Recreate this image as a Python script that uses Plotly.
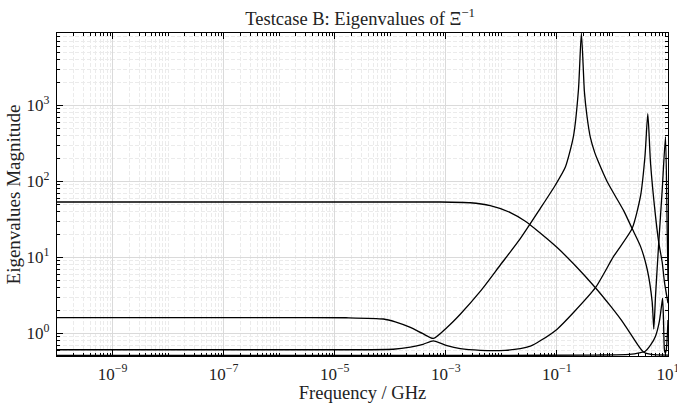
import math
import plotly.graph_objects as go

# Eigenvalue branches of Xi^-1 versus frequency (GHz)
freq_1 = [1e-10, 1e-6, 1.6e-5, 7.5e-5, 1.23e-4, 2.3e-4, 3.8e-4, 5.95e-4,
          1.05e-3, 1.82e-3, 4.2e-3, 9.5e-3, 0.0219, 0.050, 0.094, 0.142,
          0.198, 0.244, 0.276, 0.313, 0.35, 0.40, 0.48, 0.56, 0.80, 1.13, 1.6,
          2.26, 3.2, 4.22, 5.19, 5.55, 5.96, 6.75, 7.87, 9.02, 9.68, 10.0]
mag_1 = [1.62, 1.62, 1.61, 1.55, 1.42, 1.2, 1.0, 0.86,
         1.2, 1.79, 3.6, 7.9, 17.7, 44, 90, 155,
         390, 1600, 9000, 1500, 700, 380, 240, 180, 100, 64, 41,
         24, 14, 7.0, 2.6, 1.14, 3.1, 14, 78, 388, 23, 5.0]

freq_2 = [1e-10, 1e-5, 1.13e-4, 2.3e-4, 3.9e-4, 5.95e-4, 1.05e-3, 1.82e-3,
          4.2e-3, 0.0117, 0.0219, 0.0333, 0.050, 0.101, 0.201, 0.494, 1.055,
          2.26, 3.2, 3.85, 4.33, 4.84, 5.96, 6.82, 7.87, 8.65, 10.0]
mag_2 = [0.61, 0.61, 0.62, 0.66, 0.72, 0.80, 0.69, 0.63,
         0.60, 0.60, 0.63, 0.68, 0.80, 1.14, 1.9, 4.0, 10.4,
         24, 64, 215, 780, 178, 35, 15.7, 8.6, 4.7, 2.5]

freq_3 = [1e-10, 1e-4, 7.9e-4, 2.75e-3, 6.3e-3, 0.0145, 0.027, 0.050, 0.101,
          0.201, 0.494, 0.92, 1.6, 2.82, 3.62, 5.0, 10.0]
mag_3 = [53.7, 53.7, 53.7, 52.5, 48, 39, 30, 21, 13.5,
         8.2, 4.0, 2.3, 1.35, 0.72, 0.57, 0.53, 0.52]

freq_4 = [1e-10, 1e-2, 0.5, 2.0, 3.2, 3.85, 4.84, 5.96, 7.0, 7.7, 8.0,
          8.3, 8.6, 8.9, 9.3, 10.0]
mag_4 = [0.515, 0.515, 0.52, 0.53, 0.56, 0.58, 0.70, 0.92, 1.45, 2.4, 2.9,
         1.5, 0.62, 0.55, 0.60, 1.5]

series = [(freq_1, mag_1), (freq_2, mag_2), (freq_3, mag_3), (freq_4, mag_4)]

x_major = [1e-9, 1e-7, 1e-5, 1e-3, 1e-1, 1e1]
x_major_text = ["10<sup>−9</sup>", "10<sup>−7</sup>", "10<sup>−5</sup>",
                "10<sup>−3</sup>", "10<sup>−1</sup>", "10<sup>1</sup>"]
y_major = [1, 10, 100, 1000]
y_major_text = ["10<sup>0</sup>", "10<sup>1</sup>", "10<sup>2</sup>", "10<sup>3</sup>"]

x_lo, x_hi = 1e-10, 10.0
y_lo, y_hi = 0.505, 9000.0


def minor_values(lo_exp, hi_exp, majors):
    vals = []
    for e in range(lo_exp, hi_exp + 1):
        for k in range(1, 10):
            v = k * 10.0 ** e
            if any(abs(v - m) / m < 1e-9 for m in majors):
                continue
            vals.append(v)
    return vals


x_minor = minor_values(-10, 1, x_major)
y_minor = minor_values(-1, 3, y_major)

FONT = "Liberation Serif"
TEXT = "#222"

fig = go.Figure()
for f, m in series:
    fig.add_trace(go.Scatter(
        x=f, y=m, mode="lines",
        line=dict(color="black", width=1.3, shape="spline", smoothing=0.6),
        showlegend=False, hoverinfo="skip",
    ))

axis_common = dict(
    type="log", automargin=False,
    showline=True, linecolor="black", linewidth=1.2, mirror="ticks",
    ticks="inside", ticklen=6, tickwidth=1, tickcolor="black",
    showgrid=True, gridcolor="#dadada", gridwidth=1,
    zeroline=False,
    tickfont=dict(family=FONT, size=17, color=TEXT),
    tickmode="array",
    ticklabeloverflow="allow",
)
minor_common = dict(tickmode="array", ticks="inside", ticklen=3,
                    tickcolor="black", showgrid=True, gridcolor="#ebebeb",
                    griddash="4px,2px", gridwidth=1)

fig.update_xaxes(
    **axis_common,
    range=[math.log10(x_lo), math.log10(x_hi)],
    tickvals=x_major, ticktext=x_major_text,
    ticklabelstandoff=2,
    minor=dict(tickvals=x_minor, **minor_common),
    title=dict(text="Frequency / GHz", font=dict(family=FONT, size=18.5, color=TEXT),
               standoff=5),
)
fig.update_yaxes(
    **axis_common,
    range=[math.log10(y_lo), math.log10(y_hi)],
    tickvals=y_major, ticktext=y_major_text,
    ticklabelstandoff=3,
    minor=dict(tickvals=y_minor, **minor_common),
    title=dict(text="Eigenvalues Magnitude", font=dict(family=FONT, size=19, color=TEXT),
               standoff=0),
)

fig.update_layout(
    width=677, height=403,
    margin=dict(l=57, r=9, t=33, b=47, autoexpand=False),
    paper_bgcolor="white", plot_bgcolor="white",
    title=dict(text="Testcase B: Eigenvalues of Ξ<sup>−1</sup>",
               font=dict(family=FONT, size=18.5, color=TEXT),
               x=0.532, xanchor="center", y=0.955, yanchor="middle"),
)

fig.write_html("out.html")
